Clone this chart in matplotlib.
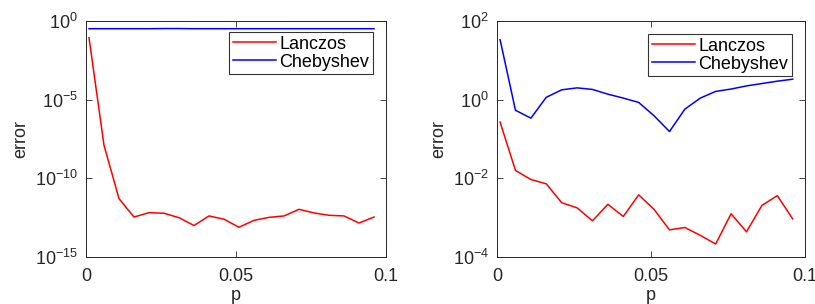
import matplotlib
matplotlib.use("Agg")
import matplotlib.pyplot as plt
import numpy as np
from matplotlib.ticker import FixedLocator, FuncFormatter, NullLocator

plt.rcParams['font.family'] = ['Liberation Sans', 'DejaVu Sans']
plt.rcParams['mathtext.fontset'] = 'custom'
plt.rcParams['mathtext.rm'] = 'Liberation Sans'
plt.rcParams['mathtext.it'] = 'Liberation Sans'

p = np.arange(20) * 0.005 + 0.001

# exponents (log10 of error)
left_lanczos = [-1.06, -7.9, -11.29, -12.46, -12.18, -12.22, -12.5, -13.0, -12.39, -12.6,
                -13.11, -12.67, -12.48, -12.39, -11.97, -12.2, -12.35, -12.39, -12.84, -12.46]
left_cheb = [-0.49, -0.49, -0.49, -0.49, -0.49, -0.48, -0.48, -0.49, -0.49, -0.49,
             -0.49, -0.49, -0.49, -0.49, -0.49, -0.49, -0.49, -0.49, -0.49, -0.49]
right_lanczos = [-0.57, -1.80, -2.03, -2.14, -2.62, -2.75, -3.08, -2.66, -2.97, -2.42,
                 -2.79, -3.31, -3.25, -3.45, -3.67, -2.9, -3.36, -2.69, -2.44, -3.03]
right_cheb = [1.525, -0.27, -0.47, 0.06, 0.25, 0.30, 0.26, 0.14, 0.04, -0.07,
              -0.41, -0.81, -0.24, 0.04, 0.21, 0.27, 0.35, 0.41, 0.47, 0.52]

panels = [
    (left_lanczos, left_cheb, (1e-15, 1e0), [0, -5, -10, -15]),
    (right_lanczos, right_cheb, (1e-4, 1e2), [2, 0, -2, -4]),
]

fig = plt.figure(figsize=(8.15, 3.04), dpi=100)
axes_pos = [[86/815, 1-257/304, 300/815, 236/304],
            [497/815, 1-257/304, 308/815, 236/304]]
legend_pos = [(373/815, 1-32/304), (792/815, 1-34/304)]

axcol = '#262626'
fmt = FuncFormatter(lambda v, pos: r'$10^{%d}$' % round(np.log10(v)))

for i, (lan, che, ylim, exps) in enumerate(panels):
    ax = fig.add_axes(axes_pos[i])
    ax.semilogy(p, 10.0 ** np.array(lan), color='red', lw=1.1, label='Lanczos')
    ax.semilogy(p, 10.0 ** np.array(che), color='blue', lw=1.1, label='Chebyshev')
    ax.set_xlim(0, 0.1)
    ax.set_ylim(*ylim)
    ax.set_xticks([0, 0.05, 0.1])
    ax.set_xticklabels(['0', '0.05', '0.1'])
    ax.yaxis.set_major_locator(FixedLocator([10.0 ** e for e in exps]))
    ax.yaxis.set_minor_locator(NullLocator())
    ax.yaxis.set_major_formatter(fmt)
    ax.tick_params(direction='in', top=True, right=True, length=4, width=0.6,
                   colors=axcol, labelsize=13, labelcolor=axcol)
    ax.tick_params(axis='x', pad=8)
    ax.tick_params(axis='y', pad=6)
    for s in ax.spines.values():
        s.set_color(axcol)
        s.set_linewidth(0.7)
    ax.set_xlabel('p', fontsize=13, color=axcol, labelpad=1)
    ax.set_ylabel('error', fontsize=13, color=axcol, labelpad=4)
    leg = ax.legend(loc='upper right', bbox_to_anchor=legend_pos[i],
                    bbox_transform=fig.transFigure, fontsize=13, frameon=True,
                    fancybox=False, borderpad=0.2, handlelength=2.4,
                    handletextpad=0.2, labelspacing=0.05, borderaxespad=0)
    leg.get_frame().set_edgecolor('black')
    leg.get_frame().set_linewidth(0.8)

fig.savefig('out.png', dpi=100)
